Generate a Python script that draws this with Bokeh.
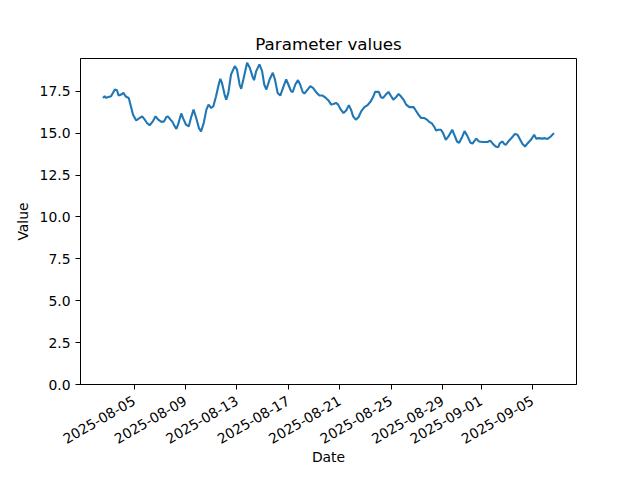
import math
import pandas as pd
from bokeh.plotting import figure
from bokeh.models import Range1d, FixedTicker, NumeralTickFormatter, DatetimeTickFormatter
from bokeh.embed import file_html
from bokeh.resources import INLINE

# ---- data ----
start_time = "2025-08-02 14:00"
hours = [0, 3, 6, 10, 15, 22, 26, 29, 34, 38, 42, 45, 48, 52, 56, 62, 68, 73, 78, 82,
         87, 93, 98, 103, 109, 114, 118, 121, 126, 129, 134, 137, 140, 146, 150, 155, 160, 165, 169, 174,
         179, 183, 188, 193, 197, 202, 206, 211, 216, 219, 222, 227, 230, 234, 239, 246, 250, 255, 258, 262,
         269, 274, 280, 282, 286, 292, 297, 301, 305, 311, 317, 321, 326, 331, 336, 342, 346, 351, 354, 359,
         364, 368, 373, 376, 382, 387, 392, 398, 404, 410, 416, 421, 426, 430, 435, 439, 444, 449, 454, 459,
         463, 467, 472, 477, 482, 488, 494, 500, 505, 508, 515, 519, 523, 528, 533, 538, 542, 547, 552, 556,
         561, 566, 572, 580, 584, 589, 594, 600, 605, 609, 614, 619, 622, 626, 631, 635, 640, 645, 652, 656,
         661, 665, 671, 675, 680, 686, 690, 694, 697, 702, 709, 718, 723, 727, 733, 738, 741, 746, 749, 752,
         758, 764, 769, 774, 779, 783, 788, 793, 799, 805, 809, 814, 820, 825, 830, 836, 842]
values = [17.1, 17.2, 17.1, 17.16, 17.2, 17.6, 17.56, 17.24, 17.3, 17.4, 17.2, 17.14, 17.1, 16.6, 16.1, 15.75, 15.9, 16.0, 15.8, 15.6,
          15.47, 15.7, 16.0, 15.8, 15.67, 15.7, 15.95, 16.0, 15.8, 15.7, 15.4, 15.25, 15.5, 16.17, 15.85, 15.5, 15.4, 16.0, 16.4, 15.9,
          15.3, 15.1, 15.6, 16.4, 16.7, 16.5, 16.6, 17.2, 17.9, 18.24, 18.0, 17.3, 17.0, 17.4, 18.5, 19.0, 18.8, 17.9, 17.64, 18.2,
          19.2, 18.9, 18.3, 18.16, 18.7, 19.1, 18.7, 17.9, 17.6, 18.2, 18.6, 18.2, 17.4, 17.24, 17.7, 18.2, 17.9, 17.5, 17.44, 17.9,
          18.16, 17.9, 17.44, 17.36, 17.6, 17.8, 17.7, 17.44, 17.24, 17.24, 17.1, 16.95, 16.7, 16.74, 16.8, 16.7, 16.4, 16.2, 16.35, 16.67,
          16.4, 16.0, 15.8, 15.95, 16.3, 16.55, 16.67, 16.9, 17.2, 17.46, 17.46, 17.14, 17.1, 17.3, 17.46, 17.2, 17.0, 17.14, 17.34, 17.2,
          17.0, 16.7, 16.55, 16.55, 16.35, 16.1, 15.9, 15.9, 15.8, 15.67, 15.58, 15.35, 15.15, 15.2, 15.2, 15.0, 14.6, 14.8, 15.2, 14.9,
          14.5, 14.42, 14.8, 15.12, 14.85, 14.43, 14.38, 14.55, 14.67, 14.5, 14.47, 14.47, 14.55, 14.4, 14.2, 14.16, 14.4, 14.5, 14.36, 14.3,
          14.55, 14.75, 14.95, 14.9, 14.6, 14.36, 14.2, 14.4, 14.6, 14.9, 14.67, 14.7, 14.67, 14.7, 14.65, 14.8, 15.0]
x_tick_dates = ["2025-08-05", "2025-08-09", "2025-08-13", "2025-08-17", "2025-08-21",
                "2025-08-25", "2025-08-29", "2025-09-01", "2025-09-05"]
y_ticks = [0.0, 2.5, 5.0, 7.5, 10.0, 12.5, 15.0, 17.5]

dates = pd.Timestamp(start_time) + pd.to_timedelta(hours, unit="h")

FONT = "DejaVu Sans"

# ranges with matplotlib-like 5% margins
t0 = dates[0].value / 1e6
t1 = dates[-1].value / 1e6
span = t1 - t0
vmin, vmax = min(values), max(values)

p = figure(width=624, height=472, output_backend="svg", toolbar_location=None,
           x_axis_type="datetime", title="Parameter values",
           x_range=Range1d(t0 - 0.05 * span, t1 + 0.05 * span),
           y_range=Range1d(0, vmax + 0.05 * (vmax - vmin)))
p.min_border_left = 80
p.min_border_right = 48
p.min_border_top = 58
p.min_border_bottom = 88

p.line(dates, values, line_color="#1f77b4", line_width=2.1)

p.xgrid.visible = False
p.ygrid.visible = False
p.outline_line_color = "black"
p.outline_line_width = 1
p.background_fill_color = "white"
p.border_fill_color = "white"

p.title.align = "center"
p.title.text_font = FONT
p.title.text_font_size = "16.7px"
p.title.text_font_style = "normal"
p.title.text_color = "black"

p.xaxis.ticker = FixedTicker(ticks=[pd.Timestamp(d).value / 1e6 for d in x_tick_dates])
p.xaxis.formatter = DatetimeTickFormatter(days="%Y-%m-%d", months="%Y-%m-%d",
                                          hours="%Y-%m-%d", years="%Y-%m-%d")
p.xaxis.major_label_orientation = math.pi / 6
p.yaxis.ticker = FixedTicker(ticks=y_ticks)
p.yaxis.formatter = NumeralTickFormatter(format="0.0")
p.xaxis.axis_label = "Date"
p.yaxis.axis_label = "Value"

for ax in (p.xaxis, p.yaxis):
    ax.axis_line_color = "black"
    ax.major_tick_line_color = "black"
    ax.major_tick_out = 5
    ax.major_tick_in = 0
    ax.minor_tick_line_color = None
    ax.major_label_text_font = FONT
    ax.major_label_text_font_size = "13.9px"
    ax.major_label_text_color = "black"
    ax.axis_label_text_font = FONT
    ax.axis_label_text_font_size = "13.9px"
    ax.axis_label_text_font_style = "normal"
    ax.axis_label_text_color = "black"
    ax.axis_label_standoff = 6

p.yaxis.major_label_standoff = 5
p.xaxis.major_label_standoff = 10
p.xaxis.axis_label_standoff = -3

open("out.html", "w").write(file_html(p, INLINE))
